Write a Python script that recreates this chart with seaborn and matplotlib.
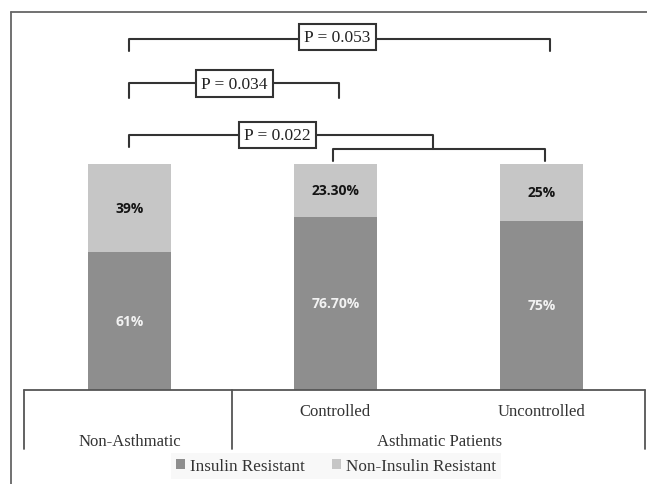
import matplotlib
matplotlib.use("Agg")
import matplotlib.pyplot as plt
import seaborn as sns
import pandas as pd
from matplotlib.patches import Patch
from matplotlib.lines import Line2D

# ---- data ----
groups = ["Non-Asthmatic", "Controlled", "Uncontrolled"]
insulin_resistant = [61, 76.7, 75]
non_insulin_resistant = [39, 23.3, 25]
ir_labels = ["61%", "76.70%", "75%"]
nir_labels = ["39%", "23.30%", "25%"]
series_names = ["Insulin Resistant", "Non-Insulin Resistant"]
pvalue_labels = ["P = 0.053", "P = 0.034", "P = 0.022"]
top_level = ["Non-Asthmatic", "Asthmatic Patients"]

dark = "#8e8e8e"
light = "#c6c6c6"
line_c = "#333333"

sns.set_theme(style="white")
plt.rcParams["font.family"] = ["DejaVu Sans"]

fig = plt.figure(figsize=(6.47, 4.85), dpi=100)
W, H = 647, 485
ax = fig.add_axes([20 / W, 1 - 391 / H, 626 / W, 378 / H])

df = pd.DataFrame({"group": groups,
                   "total": [a + b for a, b in zip(insulin_resistant, non_insulin_resistant)],
                   "ir": insulin_resistant})
sns.barplot(data=df, x="group", y="total", order=groups, color=light,
            width=0.4, saturation=1, linewidth=0, ax=ax)
sns.barplot(data=df, x="group", y="ir", order=groups, color=dark,
            width=0.4, saturation=1, linewidth=0, ax=ax)

ax.set_xlim(-0.531, 2.508)
ax.set_ylim(0, 167.3)
for s in ax.spines.values():
    s.set_visible(False)
ax.set_xticks([])
ax.set_yticks([])
ax.set_xlabel("")
ax.set_ylabel("")

# value labels
lab_font = dict(family="Open Sans", fontweight="bold", fontsize=10, ha="center", va="center")
for i in range(3):
    ax.text(i, insulin_resistant[i] / 2, ir_labels[i], color="#f2f2f2", **lab_font)
    ax.text(i, insulin_resistant[i] + non_insulin_resistant[i] / 2, nir_labels[i],
            color="#151515", **lab_font)

serif = ["Liberation Serif", "DejaVu Serif"]

# significance brackets
def bracket(x0, x1, y, yl0, yl1):
    ax.plot([x0, x0, x1, x1], [yl0, y, y, yl1], color=line_c, lw=1.5,
            clip_on=False, solid_joinstyle="round")

bracket(0.0, 2.04, 155.3, 150.0, 150.0)
bracket(0.0, 1.02, 135.8, 129.2, 129.2)
bracket(0.0, 1.476, 112.8, 107.5, 106.6)
bracket(0.99, 2.02, 106.6, 101.3, 101.3)

box = dict(boxstyle="square,pad=0.3", fc="white", ec=line_c, lw=1.5)
for (bx, by), t in zip([(1.01, 156.2), (0.51, 135.6), (0.72, 112.8)], pvalue_labels):
    ax.text(bx, by, t, family=serif, fontsize=12.5, ha="center", va="center",
            color="#222222", bbox=box, zorder=5)

# hierarchical category axis
ax.plot([-0.51, 2.505], [0, 0], color="#555555", lw=1.3, clip_on=False)
for xv in [-0.51, 0.5, 2.505]:
    ax.plot([xv, xv], [0, -26], color="#555555", lw=1.3, clip_on=False)
ax.text(1.0, -9.5, groups[1], family=serif, fontsize=12, ha="center", va="center", color="#333333")
ax.text(2.0, -9.5, groups[2], family=serif, fontsize=12, ha="center", va="center", color="#333333")
ax.text(0.0, -22.5, top_level[0], family=serif, fontsize=12, ha="center", va="center", color="#333333")
ax.text(1.505, -22.5, top_level[1], family=serif, fontsize=12, ha="center", va="center", color="#333333")

# legend
handles = [Patch(facecolor=dark, edgecolor="none"), Patch(facecolor=light, edgecolor="none")]
leg = ax.legend(handles, series_names, loc="center", bbox_to_anchor=(0.505, -0.202),
                ncol=2, frameon=True, facecolor="#f7f7f7", edgecolor="none", fancybox=False,
                handlelength=0.5, handleheight=0.5, handletextpad=0.3, columnspacing=1.6,
                borderpad=0.3, borderaxespad=0, prop={"family": serif, "size": 12.3})
for t in leg.get_texts():
    t.set_color("#333333")

# outer frame
fig.add_artist(Line2D([11 / W, 11 / W], [0, 1 - 13 / H], color="#666666", lw=1.3))
fig.add_artist(Line2D([11 / W, 1], [1 - 13 / H, 1 - 13 / H], color="#666666", lw=1.3))

fig.savefig("out.png", dpi=100)
